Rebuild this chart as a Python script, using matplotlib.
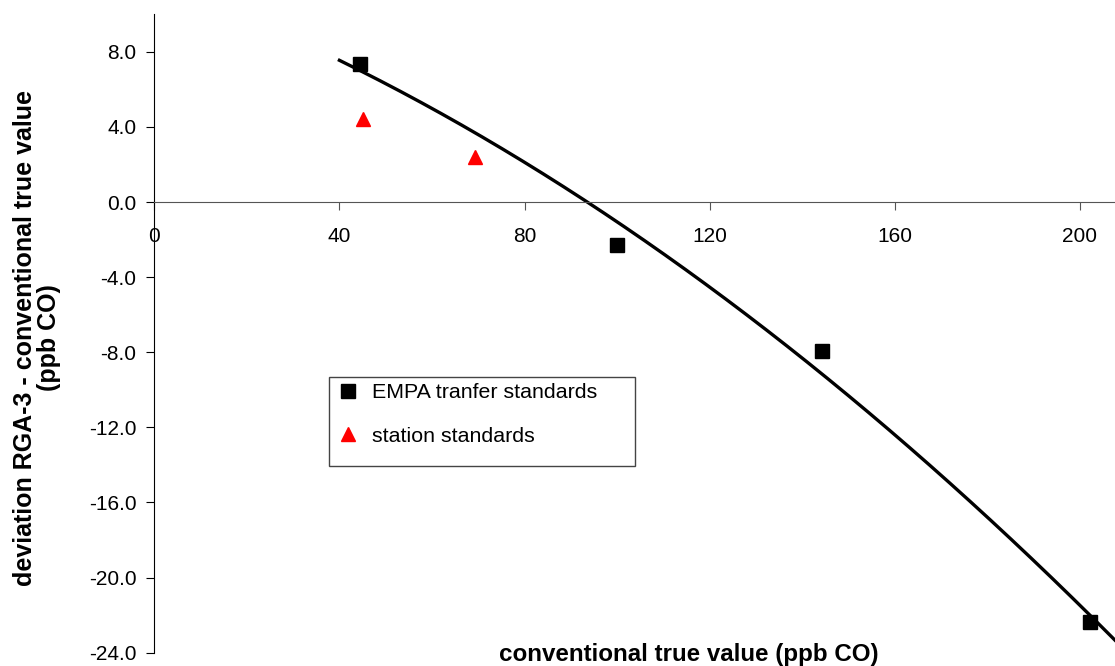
import numpy as np
import matplotlib.pyplot as plt
from matplotlib.patches import Rectangle

plt.rcParams['font.family'] = ['Liberation Sans', 'DejaVu Sans']
plt.rcParams['axes.unicode_minus'] = False

# EMPA transfer standards
empa_x = [44.4, 99.9, 144.3, 202.2]
empa_y = [7.38, -2.31, -7.91, -22.35]
# station standards
stat_x = [45.0, 69.3]
stat_y = [4.45, 2.38]

xticks = [0, 40, 80, 120, 160, 200]
yticks = [8.0, 4.0, 0.0, -4.0, -8.0, -12.0, -16.0, -20.0, -24.0]

# 2nd order trend line through the EMPA points
coef = np.polyfit(empa_x, empa_y, 2)
xf = np.linspace(40, 215, 200)
yf = np.polyval(coef, xf)

fig = plt.figure(figsize=(11.15, 6.66), dpi=100)
ax = fig.add_axes([0.1384, 0.02, 0.8616, 0.9585])

ax.plot(xf, yf, color='black', lw=2.4, zorder=2)
ax.plot(empa_x, empa_y, 's', color='black', ms=10, ls='none',
        label='EMPA tranfer standards', zorder=3)
ax.plot(stat_x, stat_y, '^', color='red', ms=10, ls='none',
        label='station standards', zorder=3)

ax.set_xlim(0, 207.6)
ax.set_ylim(-24, 10)
ax.set_xticks(xticks)
ax.set_yticks(yticks)
ax.set_yticklabels(['%.1f' % v for v in yticks])

ax.spines['top'].set_visible(False)
ax.spines['right'].set_visible(False)
ax.spines['bottom'].set_position(('data', 0))
ax.spines['bottom'].set_color('#555555')
ax.spines['left'].set_color('black')
ax.tick_params(axis='x', direction='out', length=6, pad=12, colors='#555555',
               labelcolor='black', labelsize=15)
ax.tick_params(axis='y', direction='out', length=6, pad=7, labelsize=15)

# legend box (Excel style, extra space at the bottom)
box = Rectangle((329/1115, 1 - 466/666), 306/1115, 89/666,
                transform=fig.transFigure, facecolor='white',
                edgecolor='#444444', lw=1.0, zorder=4, clip_on=False)
ax.add_patch(box)
leg = ax.legend(loc='upper left', bbox_to_anchor=(333/1115, 1 - 379/666),
                bbox_transform=fig.transFigure, fontsize=15.4, frameon=False,
                handlelength=1.0, handletextpad=0.6, labelspacing=1.15,
                borderpad=0.2, borderaxespad=0)
leg.set_zorder(5)

fig.text(689/1115, 1 - 654/666, 'conventional true value (ppb CO)', ha='center', va='center',
         fontsize=17.4, fontweight='bold')
fig.text(37/1115, 1 - 338/666, 'deviation RGA-3 - conventional true value\n(ppb CO)',
         ha='center', va='center', rotation=90, fontsize=18, fontweight='bold',
         multialignment='center', linespacing=1.05)

fig.savefig('out.png', dpi=100)
